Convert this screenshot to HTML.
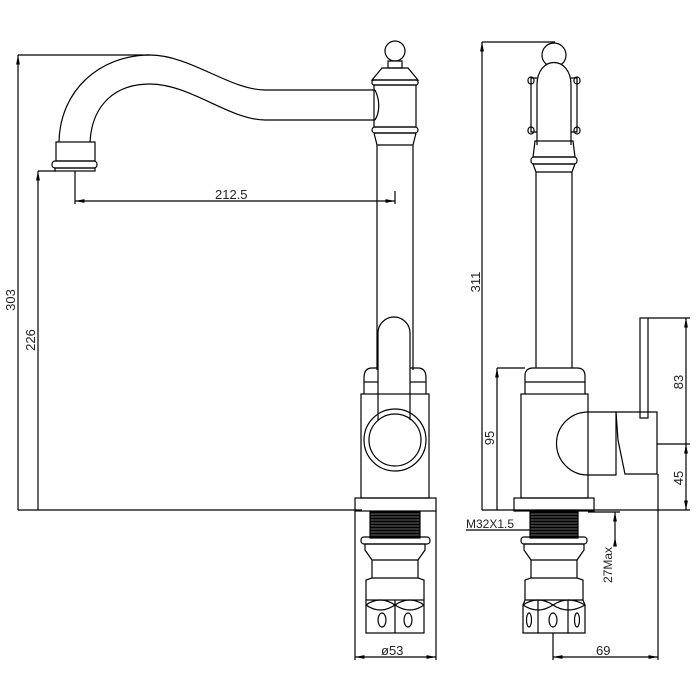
<!DOCTYPE html>
<html><head><style>
html,body{margin:0;padding:0;background:#fff}
svg{display:block}
text{font-family:"Liberation Sans",sans-serif;font-size:13px;fill:#222}
</style></head><body>
<svg width="700" height="700" viewBox="0 0 700 700" xmlns="http://www.w3.org/2000/svg">
<defs>
<marker id="a" viewBox="0 0 10 10" refX="10" refY="5" markerWidth="8" markerHeight="8" orient="auto-start-reverse"><path d="M0,3 L10,5 L0,7" fill="#000"/></marker>
<pattern id="th" width="4" height="3" patternUnits="userSpaceOnUse"><rect width="4" height="3" fill="#333"/><rect y="2" width="4" height="1" fill="#000"/></pattern>
</defs>
<g fill="none" stroke="#000" stroke-width="1.2">
<line x1="18" y1="55" x2="150" y2="55"/>
<line x1="18" y1="510" x2="18" y2="55" marker-end="url(#a)"/>
<line x1="18" y1="510" x2="362" y2="510"/>
<line x1="38" y1="510" x2="38" y2="171" marker-end="url(#a)"/>
<line x1="38" y1="171" x2="56" y2="171"/>
<line x1="75" y1="171" x2="75" y2="204"/>
<line x1="395" y1="191" x2="395" y2="204"/>
<line x1="75" y1="201" x2="395" y2="201" marker-start="url(#a)" marker-end="url(#a)"/>
<path d="M59,142 C60,90 100,55 150,55 C190,55 230,90 265,90 L375,90"/>
<path d="M90,142 C92,105 115,84 150,84 C190,84 230,120 265,120 L375,120"/>
<path d="M375,90 C380,100 380,112 375,120"/>
<rect x="56" y="142" width="39" height="19"/>
<rect x="52" y="161" width="45" height="7" rx="3"/>
<rect x="55" y="168" width="40" height="3"/>
<circle cx="395" cy="51" r="10"/>
<rect x="388" y="61" width="14" height="7"/>
<path d="M382,68 L408,68 L418,80 L372,80 Z"/>
<rect x="372" y="80" width="46" height="5" rx="2"/>
<rect x="374" y="85" width="42" height="42"/>
<rect x="372" y="127" width="46" height="6" rx="3"/>
<path d="M374,133 L416,133 L413,145 L377,145 Z"/>
<line x1="377" y1="145" x2="377" y2="370"/>
<line x1="413" y1="145" x2="413" y2="370"/>
<path d="M378,420 L378,333 A16,16 0 0 1 410,333 L410,420"/>
<path d="M364,394 L364,378 Q364,368 372,368 L378,368 M410,368 L418,368 Q426,368 426,378 L426,394"/>
<line x1="364" y1="382" x2="378" y2="382"/><line x1="410" y1="382" x2="426" y2="382"/>
<rect x="361" y="394" width="68" height="104"/>
<circle cx="395" cy="440" r="31"/>
<circle cx="395" cy="440" r="26"/>
<rect x="355" y="498" width="81" height="13"/>
<rect x="370" y="512" width="50" height="26" fill="url(#th)"/>
<rect x="361" y="537" width="69" height="7" rx="3"/>
<path d="M365,544 L425,544 L425,550 L418,560 L418,578 L424,580 L424,600 M365,544 L365,550 L372,560 L372,578 L366,580 L366,600"/>
<line x1="372" y1="560" x2="418" y2="560"/><line x1="372" y1="578" x2="418" y2="578"/>
<rect x="366" y="600" width="58" height="33"/>
<path d="M366,605 Q380,595 395,605 Q410,595 424,605 M366,605 Q380,615 395,605 Q410,615 424,605"/>
<line x1="395" y1="600" x2="395" y2="633"/>
<ellipse cx="382" cy="620" rx="4" ry="7"/><ellipse cx="408" cy="620" rx="4" ry="7"/>
<line x1="355" y1="511" x2="355" y2="660"/>
<line x1="436" y1="511" x2="436" y2="660"/>
<line x1="355" y1="657" x2="436" y2="657" marker-start="url(#a)" marker-end="url(#a)"/>

<line x1="482" y1="42" x2="555" y2="42"/>
<line x1="482" y1="510" x2="482" y2="42" marker-end="url(#a)"/>
<line x1="482" y1="510" x2="690" y2="510"/>
<line x1="497" y1="510" x2="497" y2="368" marker-end="url(#a)"/>
<line x1="497" y1="368" x2="525" y2="368"/>
<circle cx="554" cy="55" r="12"/>
<path d="M537,145 L537,85 C537,55 571,55 571,85 L571,145" fill="#fff"/>
<path d="M537,78 L531,78 L531,132 L537,132 M571,78 L577,78 L577,132 L571,132"/>
<rect x="528" y="77" width="6" height="7" rx="3"/><rect x="574" y="77" width="6" height="7" rx="3"/>
<rect x="528" y="127" width="6" height="7" rx="3"/><rect x="574" y="127" width="6" height="7" rx="3"/>
<path d="M535,141 L573,141 L575,157 L533,157 Z"/>
<rect x="531" y="157" width="46" height="7" rx="3"/>
<path d="M533,164 L575,164 L572,172 L536,172 Z"/>
<line x1="536" y1="172" x2="536" y2="368"/>
<line x1="572" y1="172" x2="572" y2="368"/>
<path d="M525,394 L525,376 Q525,368 533,368 L577,368 Q585,368 585,376 L585,394"/>
<line x1="525" y1="382" x2="585" y2="382"/>
<rect x="521" y="394" width="67" height="104"/>
<path d="M588,412 A30,30 0 0 0 588,475 L616,475 L616,412 Z"/>
<path d="M616,412 L657,412 L657,474 L625,474 L618,440 Z"/>
<rect x="640" y="318" width="8" height="100"/>
<line x1="657" y1="444" x2="690" y2="444"/>
<line x1="648" y1="318" x2="690" y2="318"/>
<line x1="686" y1="444" x2="686" y2="318" marker-end="url(#a)"/>
<line x1="686" y1="444" x2="686" y2="510" marker-start="url(#a)" marker-end="url(#a)"/>
<rect x="514" y="498" width="80" height="13"/>
<rect x="530" y="512" width="48" height="26" fill="url(#th)"/>
<rect x="521" y="537" width="66" height="7" rx="3"/>
<path d="M524,544 L584,544 L584,550 L577,560 L577,578 L583,580 L583,600 M524,544 L524,550 L531,560 L531,578 L525,580 L525,600"/>
<line x1="531" y1="560" x2="577" y2="560"/><line x1="531" y1="578" x2="577" y2="578"/>
<path d="M523,605 L525,600 L583,600 L585,605 L585,633 L523,633 Z"/>
<path d="M523,605 Q538,595 553,605 Q568,595 585,605 M523,605 Q538,615 553,605 Q568,615 585,605"/>
<line x1="538" y1="600" x2="538" y2="633"/><line x1="568" y1="600" x2="568" y2="633"/>
<ellipse cx="529" cy="620" rx="2.5" ry="7"/><ellipse cx="553" cy="620" rx="4" ry="7"/><ellipse cx="577" cy="620" rx="2.5" ry="7"/>
<line x1="466" y1="530" x2="530" y2="530"/>
<line x1="588" y1="512" x2="620" y2="512"/>
<line x1="615" y1="537" x2="615" y2="512" marker-end="url(#a)"/>
<line x1="615" y1="537" x2="615" y2="545" marker-start="url(#a)"/>
<line x1="553" y1="633" x2="553" y2="660"/>
<line x1="658" y1="474" x2="658" y2="660"/>
<line x1="553" y1="657" x2="658" y2="657" marker-start="url(#a)" marker-end="url(#a)"/>
</g>
<text x="215" y="199">212.5</text>
<text transform="translate(15,300) rotate(-90)" text-anchor="middle">303</text>
<text transform="translate(35,340) rotate(-90)" text-anchor="middle">226</text>
<text transform="translate(480,282) rotate(-90)" text-anchor="middle">311</text>
<text transform="translate(494,438) rotate(-90)" text-anchor="middle">95</text>
<text transform="translate(683,382) rotate(-90)" text-anchor="middle">83</text>
<text transform="translate(683,478) rotate(-90)" text-anchor="middle">45</text>
<text transform="translate(612,565) rotate(-90)" text-anchor="middle" style="font-size:12px">27Max</text>
<text x="466" y="528" style="font-size:12px">M32X1.5</text>
<text x="381" y="655">ø53</text>
<text x="596" y="655">69</text>
</svg>
</body></html>
